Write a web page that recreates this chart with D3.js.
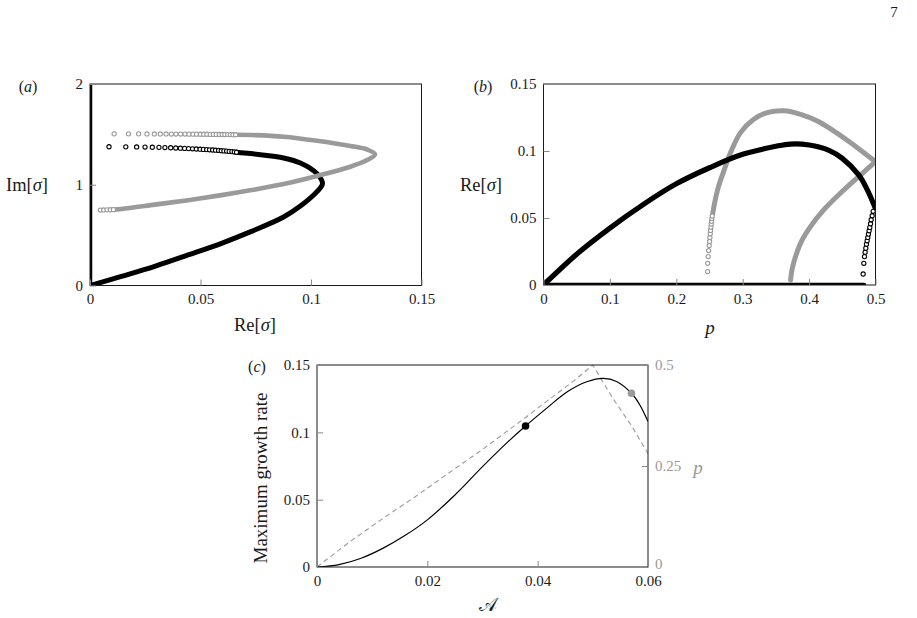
<!DOCTYPE html>
<html><head><meta charset="utf-8">
<script src="https://cdn.jsdelivr.net/npm/d3@7"></script>
<style>
body{margin:0;background:#fff;}
svg{font-family:"Liberation Serif","DejaVu Serif",serif;}
</style></head><body>
<svg id="chart" width="917" height="618"></svg>
<script>
// ---------------- Panel (a): Im[sigma] vs Re[sigma] ----------------
const aXTicks = [0, 0.05, 0.1, 0.15];
const aXLabels = ["0", "0.05", "0.1", "0.15"];
const aYTicks = [0, 1, 2];
const aYLabels = ["0", "1", "2"];
const aZeroIm = [0, 2];                       // black modes lying on Re = 0
const aBlackLineRe = [0, 0.0142, 0.0293, 0.0444, 0.0595, 0.0725, 0.0876, 0.0952, 0.1027, 0.1052, 0.1027, 0.0952, 0.0876, 0.0801, 0.0725, 0.0663];
const aBlackLineIm = [0, 0.090, 0.190, 0.303, 0.419, 0.532, 0.680, 0.788, 0.931, 1.010, 1.110, 1.216, 1.266, 1.290, 1.310, 1.323];
const aBlackDotRe = [0.0086,0.0162,0.0211,0.0249,0.0282,0.0312,0.0339,0.0365,0.0388,0.0409,0.0428,0.0446,0.0464,0.0481,0.0498,0.0513,0.0528,0.0541,0.0555,0.0568,0.0582,0.0594,0.0606,0.0618,0.0630,0.0642,0.0653,0.0663];
const aBlackDotIm = [1.377,1.376,1.375,1.374,1.372,1.371,1.369,1.367,1.365,1.363,1.361,1.359,1.357,1.355,1.353,1.351,1.349,1.347,1.345,1.343,1.341,1.338,1.336,1.334,1.331,1.329,1.326,1.323];
const aGrayLineRe = [0.0106, 0.0142, 0.0293, 0.0444, 0.0595, 0.0725, 0.0876, 0.1027, 0.1178, 0.1254, 0.1290, 0.1254, 0.1178, 0.1027, 0.0876, 0.0725, 0.0659];
const aGrayLineIm = [0.753, 0.760, 0.803, 0.847, 0.897, 0.945, 1.007, 1.087, 1.179, 1.245, 1.302, 1.350, 1.385, 1.437, 1.477, 1.494, 1.497];
const aGrayDotRe = [0.0109,0.0174,0.0220,0.0258,0.0291,0.0318,0.0344,0.0368,0.0389,0.0410,0.0430,0.0448,0.0466,0.0482,0.0499,0.0514,0.0529,0.0544,0.0558,0.0571,0.0585,0.0598,0.0610,0.0623,0.0635,0.0647,0.0659];
const aGrayDotIm = [1.505,1.505,1.505,1.504,1.504,1.504,1.504,1.503,1.503,1.503,1.503,1.502,1.502,1.502,1.501,1.501,1.501,1.500,1.500,1.500,1.499,1.499,1.499,1.498,1.498,1.497,1.497];
const aGrayDot2Re = [0.0047, 0.0062, 0.0077, 0.0092, 0.0106];
const aGrayDot2Im = [0.749, 0.750, 0.751, 0.752, 0.753];

// ---------------- Panel (b): Re[sigma] vs p ----------------
const bXTicks = [0, 0.1, 0.2, 0.3, 0.4, 0.5];
const bXLabels = ["0", "0.1", "0.2", "0.3", "0.4", "0.5"];
const bYTicks = [0, 0.05, 0.1, 0.15];
const bYLabels = ["0", "0.05", "0.1", "0.15"];
const bZeroP = [0, 0.4827];                   // black modes lying on Re = 0
const bBlackP  = [0, 0.05, 0.10, 0.15, 0.20, 0.25, 0.30, 0.35, 0.3718, 0.40, 0.43, 0.45, 0.475, 0.4875, 0.50];
const bBlackRe = [0, 0.0230, 0.0425, 0.0600, 0.0755, 0.0875, 0.0975, 0.1035, 0.1052, 0.1045, 0.1005, 0.0945, 0.0820, 0.0712, 0.0570];
const bBlackDotP  = [0.4814,0.4824,0.4834,0.4844,0.4854,0.4864,0.4874,0.4884,0.4894,0.4904,0.4914,0.4925,0.4935,0.4950,0.4965];
const bBlackDotRe = [0.0082,0.0162,0.0212,0.0245,0.0275,0.0305,0.0330,0.0355,0.0380,0.0405,0.0430,0.0457,0.0487,0.0517,0.0550];
const bGray1P  = [0.2546,0.2580,0.2630,0.2715,0.2816,0.2967,0.3167,0.3370,0.3620,0.3872,0.4124,0.4374,0.4626,0.4878,0.5000];
const bGray1Re = [0.0525,0.0620,0.0725,0.0850,0.0987,0.1137,0.1237,0.1287,0.1300,0.1274,0.1224,0.1149,0.1062,0.0967,0.0920];
const bGray1DotP  = [0.2471,0.2472,0.2481,0.2486,0.2496,0.2501,0.2506,0.2511,0.2516,0.2521,0.2526,0.2531,0.2536,0.2541];
const bGray1DotRe = [0.0100,0.0162,0.0212,0.0257,0.0295,0.0325,0.0355,0.0382,0.0407,0.0432,0.0455,0.0475,0.0495,0.0515];
const bGray2P  = [0.3721,0.3730,0.3747,0.3796,0.3872,0.4023,0.4223,0.4475,0.4727,0.5000];
const bGray2Re = [0.0037,0.0075,0.0125,0.0212,0.0313,0.0437,0.0562,0.0687,0.0800,0.0920];

// ---------------- Panel (c): maximum growth rate vs A ----------------
const cXTicks = [0, 0.02, 0.04, 0.06];
const cXLabels = ["0", "0.02", "0.04", "0.06"];
const cYTicks = [0, 0.05, 0.1, 0.15];
const cYLabels = ["0", "0.05", "0.1", "0.15"];
const cPTicks = [0, 0.25, 0.5];
const cPLabels = ["0", "0.25", "0.5"];
const cA    = [0, 0.004, 0.008, 0.012, 0.016, 0.020, 0.025, 0.030, 0.0345, 0.0378, 0.0416, 0.0453, 0.0489, 0.0519, 0.0543, 0.0570, 0.0585, 0.0600];
const cRate = [0, 0.0018, 0.0065, 0.0140, 0.0235, 0.0350, 0.0535, 0.0745, 0.0925, 0.1047, 0.1178, 0.1300, 0.1376, 0.1401, 0.1378, 0.1290, 0.1205, 0.1080];
const cDashA = [0, 0.0057, 0.0117, 0.0178, 0.0238, 0.0299, 0.0378, 0.0416, 0.0465, 0.0500, 0.0535, 0.0570, 0.0600];
const cDashP = [0, 0.060, 0.118, 0.174, 0.232, 0.290, 0.370, 0.410, 0.460, 0.500, 0.420, 0.350, 0.281];
const cDotA = [0.0378, 0.0570];
const cDotRate = [0.1047, 0.1290];
const cDotColor = ["#000", "#9a9a9a"];

// ---------------- drawing ----------------
const svg = d3.select("#chart");
const GRAY = "#9a9a9a";
const TICKC = "#888";
const FONT = '"Liberation Serif","DejaVu Serif",serif';
const smooth = d3.line().curve(d3.curveCatmullRom.alpha(0.5));
const straight = d3.line();

function zip(xs, ys, sx, sy) { return xs.map((v, i) => [sx(v), sy(ys[i])]); }

function makePanel(id, sx, sy) {
  const [x0, x1] = sx.range(), [y0, y1] = sy.range();
  svg.append("clipPath").attr("id", id).append("rect")
     .attr("x", x0).attr("y", y1).attr("width", x1 - x0).attr("height", y0 - y1);
  const g = svg.append("g");
  const data = g.append("g").attr("clip-path", `url(#${id})`);
  return {g, data};
}

function frame(g, sx, sy) {
  const [x0, x1] = sx.range(), [y0, y1] = sy.range();
  g.append("rect").attr("x", x0).attr("y", y1).attr("width", x1 - x0).attr("height", y0 - y1)
   .attr("fill", "none").attr("stroke", "#1a1a1a").attr("stroke-width", 1);
}

function styleAxis(sel, color) {
  sel.attr("font-family", FONT).attr("font-size", 15);
  sel.select(".domain").remove();
  sel.selectAll(".tick line").attr("stroke", TICKC).attr("stroke-width", 1);
  sel.selectAll(".tick text").attr("fill", color).style("font-size", "15px").style("font-family", FONT);
}

function axes(g, sx, sy, xt, xl, yt, yl) {
  const [y0] = sy.range(), [x0] = sx.range();
  const ax = g.append("g").attr("transform", `translate(0,${y0})`)
    .call(d3.axisBottom(sx).tickValues(xt).tickFormat((d, i) => xl[i]).tickSizeInner(-6).tickSizeOuter(0).tickPadding(8));
  styleAxis(ax, "#1a1a1a");
  const ay = g.append("g").attr("transform", `translate(${x0},0)`)
    .call(d3.axisLeft(sy).tickValues(yt).tickFormat((d, i) => yl[i]).tickSizeInner(-6).tickSizeOuter(0).tickPadding(7));
  styleAxis(ay, "#1a1a1a");
}

function thick(g, pts, color, w, curve) {
  g.append("path").attr("d", (curve || smooth)(pts)).attr("fill", "none")
   .attr("stroke", color).attr("stroke-width", w).attr("stroke-linecap", "round").attr("stroke-linejoin", "round");
}
function rings(g, pts, color) {
  g.selectAll(null).data(pts).join("circle")
   .attr("cx", d => d[0]).attr("cy", d => d[1]).attr("r", 2.1)
   .attr("fill", "#fff").attr("stroke", color).attr("stroke-width", 1.1);
}
function label(x, y, parts, size, opts = {}) {
  const t = svg.append("text").attr("x", x).attr("y", y)
    .attr("text-anchor", opts.anchor || "middle").attr("dominant-baseline", "central")
    .style("font-size", size + "px").style("font-family", FONT).attr("fill", opts.color || "#1a1a1a");
  if (opts.rotate) t.attr("transform", `rotate(-90,${x},${y})`);
  parts.forEach(p => t.append("tspan").text(p[0]).style("font-style", p[1] ? "italic" : "normal"));
  return t;
}

// page number
label(894, 12, [["7", false]], 15);

// ----- panel a -----
{
  const sx = d3.scaleLinear([0, 0.15], [90, 421.5]);
  const sy = d3.scaleLinear([0, 2], [285.5, 84]);
  const {g, data} = makePanel("clipA", sx, sy);
  thick(data, aZeroIm.map(v => [sx(0), sy(v)]), "#000", 4.5, straight);
  thick(data, zip(aBlackLineRe, aBlackLineIm, sx, sy), "#000", 5);
  rings(data, zip(aBlackDotRe, aBlackDotIm, sx, sy), "#000");
  thick(data, zip(aGrayLineRe, aGrayLineIm, sx, sy), GRAY, 4.6);
  rings(data, zip(aGrayDotRe, aGrayDotIm, sx, sy), GRAY);
  rings(data, zip(aGrayDot2Re, aGrayDot2Im, sx, sy), GRAY);
  frame(g, sx, sy);
  axes(g, sx, sy, aXTicks, aXLabels, aYTicks, aYLabels);
  label(28, 86, [["(", false], ["a", true], [")", false]], 16);
  label(27, 185, [["Im[", false], ["σ", true], ["]", false]], 18.5);
  label(255, 325, [["Re[", false], ["σ", true], ["]", false]], 18.5);
}

// ----- panel b -----
{
  const sx = d3.scaleLinear([0, 0.5], [543.5, 875.5]);
  const sy = d3.scaleLinear([0, 0.15], [285, 84]);
  const {g, data} = makePanel("clipB", sx, sy);
  thick(data, zip(bGray1P, bGray1Re, sx, sy), GRAY, 5);
  rings(data, zip(bGray1DotP, bGray1DotRe, sx, sy), GRAY);
  thick(data, zip(bGray2P, bGray2Re, sx, sy), GRAY, 5);
  thick(data, bZeroP.map(p => [sx(p), sy(0)]), "#000", 4.5, straight);
  thick(data, zip(bBlackP, bBlackRe, sx, sy), "#000", 5.2);
  rings(data, zip(bBlackDotP, bBlackDotRe, sx, sy), "#000");
  frame(g, sx, sy);
  axes(g, sx, sy, bXTicks, bXLabels, bYTicks, bYLabels);
  label(483, 86, [["(", false], ["b", true], [")", false]], 16);
  label(481, 185, [["Re[", false], ["σ", true], ["]", false]], 18.5);
  label(710, 327, [["p", true]], 19);
}

// ----- panel c -----
{
  const sx = d3.scaleLinear([0, 0.06], [317, 648]);
  const sy = d3.scaleLinear([0, 0.15], [567, 365]);
  const sp = d3.scaleLinear([0, 0.5], [567, 365]);
  const {g, data} = makePanel("clipC", sx, sy);
  data.append("path").attr("d", straight(zip(cDashA, cDashP, sx, sp)))
      .attr("fill", "none").attr("stroke", GRAY).attr("stroke-width", 1.1).attr("stroke-dasharray", "5,3.5");
  data.append("path").attr("d", smooth(zip(cA, cRate, sx, sy)))
      .attr("fill", "none").attr("stroke", "#000").attr("stroke-width", 1.2);
  g.selectAll(null).data(cDotA).join("circle")
   .attr("cx", d => sx(d)).attr("cy", (d, i) => sy(cDotRate[i])).attr("r", 3.8)
   .attr("fill", (d, i) => cDotColor[i]);
  frame(g, sx, sy);
  axes(g, sx, sy, cXTicks, cXLabels, cYTicks, cYLabels);
  const ar = g.append("g").attr("transform", `translate(${sx.range()[1]},0)`)
    .call(d3.axisRight(sp).tickValues(cPTicks).tickFormat((d, i) => cPLabels[i]).tickSizeInner(-6).tickSizeOuter(0).tickPadding(7));
  styleAxis(ar, GRAY);
  ar.selectAll(".tick text").filter(d => d === 0).attr("y", -3);
  label(257, 366, [["(", false], ["c", true], [")", false]], 16);
  label(260, 478, [["Maximum growth rate", false]], 19, {rotate: true});
  label(698, 467, [["p", true]], 19, {color: GRAY});
  label(488, 604, [["𝒜", false]], 19);
}
</script>
</body></html>
